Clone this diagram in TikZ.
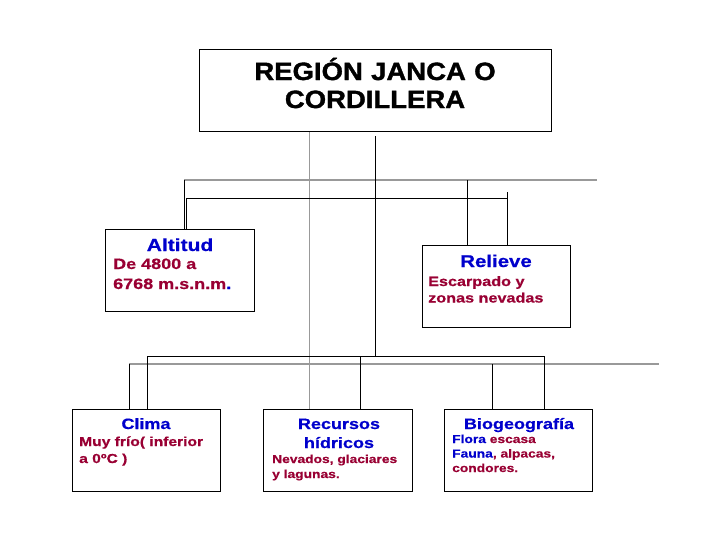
\documentclass[tikz,border=0pt]{standalone}
\usepackage{fontspec}
\setmainfont{Liberation Sans}[FakeStretch=1.2, FakeBold=0.6]
\newfontfamily\titlefont{Liberation Sans}[FakeStretch=1.1, FakeBold=1.4]
\definecolor{headblue}{HTML}{0000CC}
\definecolor{bodyred}{HTML}{990033}
\definecolor{greyline}{HTML}{999999}

\begin{document}
\begin{tikzpicture}[
  x=1pt, y=-1pt,
  box/.style={rectangle, draw=black, line width=1pt, anchor=north west, inner sep=0pt,
              minimum width=148pt, minimum height=82pt},
  link/.style={draw=black, line width=1pt},
  greylink/.style={draw=greyline, line width=1.1pt},
  head/.style={font=\fontsize{15}{19}\selectfont\bfseries, text=headblue, inner sep=0pt,
               anchor=base, text width=150pt, align=center},
  body/.style={font=\fontsize{11.5}{15}\selectfont\bfseries, text=bodyred, inner sep=0pt,
               anchor=base west, text width=145pt, align=left},
]
  \fill[white] (0,0) rectangle (728,546);
  \useasboundingbox (0,0) rectangle (728,546);

  % boxes
  \node[box, minimum width=352pt] (region)   at (199,49)  {};
  \node[box, minimum width=149pt] (altitud)  at (105,229) {};
  \node[box]                      (relieve)  at (422,245) {};
  \node[box]                      (clima)    at (72,409)  {};
  \node[box, minimum width=149pt] (recursos) at (263,409) {};
  \node[box]                      (biogeo)   at (444,409) {};

  % texts
  \node[font=\titlefont\fontsize{25}{28}\selectfont\bfseries, inner sep=0pt, anchor=base,
        text width=352pt, align=center] (regiontext) at (375,80) {REGIÓN JANCA O\\CORDILLERA};
  \node[head, font=\fontsize{17.5}{20}\selectfont\bfseries] (altitudhead) at (180,251) {Altitud};
  \node[body, font=\fontsize{15}{20}\selectfont\bfseries] (altitudbody) at (113,269)
       {De 4800 a\\6768 m.s.n.m\textcolor{headblue}{.}};
  \node[head, font=\fontsize{17}{20}\selectfont\bfseries] (relievehead) at (496,267) {Relieve};
  \node[body, font=\fontsize{13.5}{16.5}\selectfont\bfseries] (relievebody) at (428,286)
       {Escarpado y\\zonas nevadas};
  \node[head] (climahead) at (146,429) {Clima};
  \node[body, font=\fontsize{13}{17}\selectfont\bfseries] (climabody) at (79,446)
       {Muy frío( inferior\\a 0ºC )};
  \node[head] (recursoshead) at (339,429) {Recursos\\hídricos};
  \node[body] (recursosbody) at (272,463) {Nevados, glaciares\\y lagunas.};
  \node[head] (biogeohead) at (519,429) {Biogeografía};
  \node[body, font=\fontsize{11.5}{14.5}\selectfont\bfseries] (biogeobody) at (452,443)
       {\textcolor{headblue}{Flora} escasa\\\textcolor{headblue}{Fauna}, alpacas,\\condores.};

  % bus points
  \coordinate (greyupL)  at (184,180);
  \coordinate (greyupR)  at (597,180);
  \coordinate (greylowL) at (129,364);
  \coordinate (greylowR) at (659,364);
  \coordinate (blackupL) at (186,198);
  \coordinate (blackupR) at (507,192);
  \coordinate (blacklowL) at (147,356);
  \coordinate (blacklowR) at (544,356);
  \coordinate (relievejoin)  at (467,180);
  \coordinate (recursosjoin) at (360,356);
  \coordinate (biogeojoin)   at (492,364);

  % grey connectors
  \draw[greylink] ([xshift=-66pt]region.south) -- ([xshift=-28.5pt]recursos.north);
  \draw[greylink] (greyupL) -- (greyupR);
  \draw[greylink] (greylowL) -- (greylowR);

  % black connectors
  \draw[link] ([yshift=-4pt]region.south) -- (blacklowL -| region.south);
  \draw[link] (altitud.north -| greyupL) -- (greyupL);
  \draw[link] (relievejoin) -- (relieve.north -| relievejoin);
  \draw[link] (altitud.north -| blackupL) -- (blackupL) -- (blackupL -| blackupR);
  \draw[link] (blackupR) -- (relieve.north -| blackupR);
  \draw[link] (clima.north -| blacklowL) -- (blacklowL) -- (blacklowR) -- (biogeo.north -| blacklowR);
  \draw[link] (recursosjoin) -- (recursos.north -| recursosjoin);
  \draw[link] (greylowL) -- (clima.north -| greylowL);
  \draw[link] (biogeojoin) -- (biogeo.north -| biogeojoin);
\end{tikzpicture}
\end{document}
